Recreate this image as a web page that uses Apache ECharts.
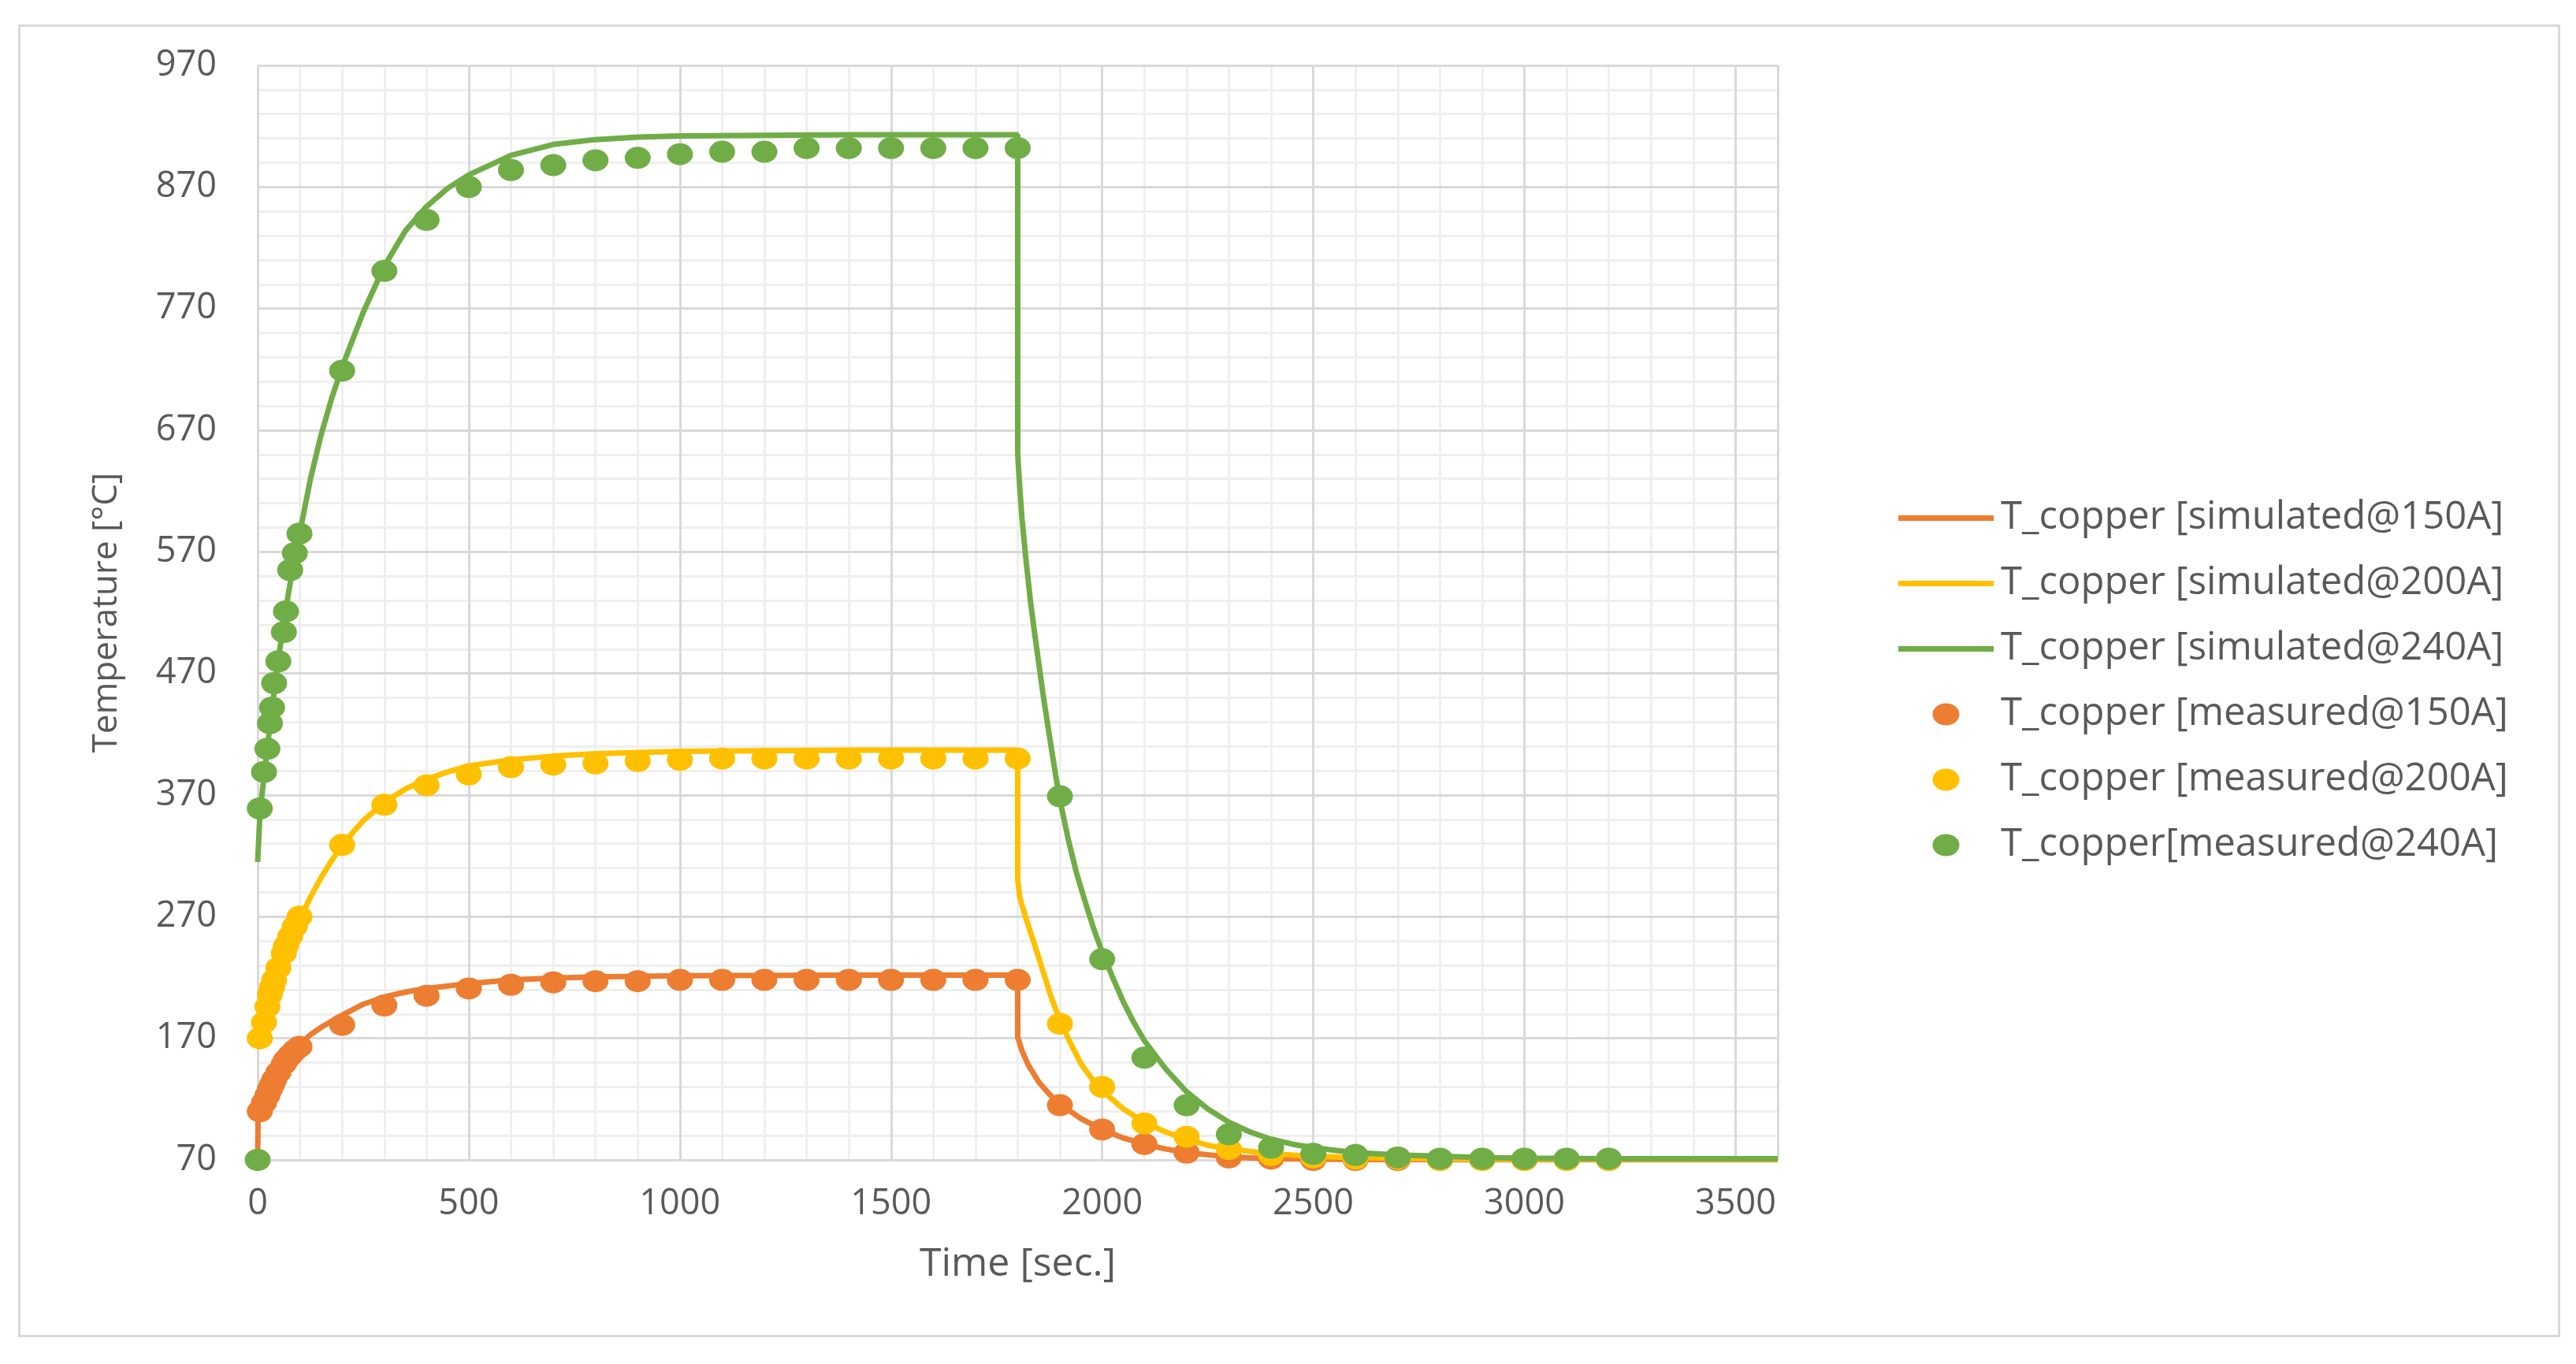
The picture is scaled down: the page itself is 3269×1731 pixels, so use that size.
<!DOCTYPE html>
<html>
<head>
<meta charset="utf-8">
<script src="https://cdn.jsdelivr.net/npm/echarts@6/dist/echarts.min.js"></script>
<style>
html,body{margin:0;padding:0;background:#fff;}
#chart{width:3269px;height:1731px;}
</style>
</head>
<body>
<div id="chart"></div>
<script>
// ---- data (time [s], temperature [°C]) ----
const seriesNames = [
  'T_copper [simulated@150A]',
  'T_copper [simulated@200A]',
  'T_copper [simulated@240A]',
  'T_copper [measured@150A]',
  'T_copper [measured@200A]',
  'T_copper[measured@240A]'
];

const sim150 = [[0,70],[1,108],[5,113],[10,118],[20,126],[30,133],[40,139],[50,145],[60,150],[70,155],[80,159],[90,162],[100,165],[125,173],[150,179],[175,184],[200,189],[250,198],[300,204],[350,208],[400,211],[500,215],[600,218],[700,219.5],[800,220.5],[1000,221.5],[1400,222],[1800,222],[1800,171],[1810,160],[1825,148],[1850,134],[1875,124],[1900,116],[1950,104],[2000,95],[2050,88],[2100,83],[2150,79],[2200,76],[2300,72.5],[2400,71],[2600,70.3],[3000,70],[3600,70]];

const sim200 = [[0,165],[10,178],[20,191],[30,203],[40,214],[50,225],[60,235],[70,244],[80,252],[90,260],[100,268],[125,286],[150,302],[175,316],[200,329],[250,349],[300,364],[350,375],[400,383],[450,389],[500,394],[600,399],[700,402],[800,404],[900,405],[1000,406],[1400,407],[1800,407],[1800,300],[1805,286],[1820,268],[1840,247],[1860,225],[1880,203],[1900,185],[1925,166],[1950,149],[1975,137],[2000,127],[2050,112],[2100,101],[2150,93],[2200,87],[2250,82],[2300,79],[2400,75],[2500,73],[2600,72],[2800,71],[3000,70.5],[3600,70.5]];

const sim240 = [[0,315],[5,352],[10,370],[20,400],[30,430],[40,458],[50,484],[60,508],[70,530],[80,550],[90,569],[100,586],[125,630],[150,666],[175,696],[200,722],[250,767],[300,805],[350,834],[400,854],[450,869],[500,880],[600,896],[700,905],[800,909],[900,911],[1000,912],[1400,913],[1800,913],[1800,650],[1805,622],[1810,598],[1820,562],[1830,530],[1840,503],[1850,478],[1860,453],[1870,430],[1880,408],[1890,386],[1900,366],[1920,333],[1940,305],[1960,282],[1980,260],[2000,241],[2025,220],[2050,200],[2075,183],[2100,168],[2150,145],[2200,126],[2250,112],[2300,101],[2350,93],[2400,87],[2450,83],[2500,80],[2550,78],[2600,76],[2700,74],[2800,73],[2900,72],[3000,71.5],[3200,71],[3600,71]];

const meas150 = [[5,110],[15,117],[23,123],[29,128],[34,132],[39,136],[49,142],[62,149],[67,152],[77,156],[88,160],[99,163],[200,181],[300,197],[400,205],[500,211],[600,214],[700,216],[800,217],[900,217],[1000,218],[1100,218],[1200,218],[1300,218],[1400,218],[1500,218],[1600,218],[1700,218],[1800,218],[1900,115],[2000,95],[2100,83],[2200,76],[2300,72],[2400,71],[2500,70],[2600,70],[2700,70],[2800,70],[2900,70],[3000,70],[3100,70],[3200,70]];

const meas200 = [[5,170],[15,183],[23,196],[29,206],[34,212],[39,218],[49,228],[62,240],[67,246],[77,254],[88,262],[99,270],[200,329],[300,362],[400,378],[500,387],[600,393],[700,395],[800,396],[900,398],[1000,399],[1100,400],[1200,400],[1300,400],[1400,400],[1500,400],[1600,400],[1700,400],[1800,400],[1900,182],[2000,130],[2100,100],[2200,89],[2300,79],[2400,74],[2500,72],[2600,71],[2700,71],[2800,70],[2900,70],[3000,70],[3100,70],[3200,70]];

const meas240 = [[0,70],[5,359],[15,389],[23,408],[29,429],[34,442],[39,462],[49,480],[62,504],[67,521],[77,555],[88,569],[99,585],[200,719],[300,801],[400,843],[500,870],[600,884],[700,888],[800,892],[900,894],[1000,897],[1100,899],[1200,899],[1300,902],[1400,902],[1500,902],[1600,902],[1700,902],[1800,902],[1900,369],[2000,235],[2100,154],[2200,115],[2300,91],[2400,80],[2500,75],[2600,74],[2700,72],[2800,71],[2900,71],[3000,71],[3100,71],[3200,71]];

const colors = ['#ED7D31', '#FFC000', '#70AD47'];
const xTitle = 'Time [sec.]';
const yTitle = 'Temperature [°C]';

const textColor = '#595959';
const font = '"Open Sans", "Noto Sans", sans-serif';

// legend icons drawn in a 121x30 box (corner points keep the box size)
const lineIcon = 'path://M0,0L0,0M121,30L121,30M0,11.5L121,11.5L121,18.5L0,18.5Z';
const dotIcon = 'path://M0,0L0,0M121,30L121,30M43.5,15A17,14,0,1,0,77.5,15A17,14,0,1,0,43.5,15Z';

const chart = echarts.init(document.getElementById('chart'), null, {renderer: 'canvas'});

function lineSeries(name, data, color) {
  return {
    name, type: 'line', data, symbol: 'none', showSymbol: false,
    lineStyle: {color, width: 7}, itemStyle: {color},
    xAxisIndex: 0, yAxisIndex: 0, z: 3
  };
}
function dotSeries(name, data, color) {
  return {
    name, type: 'scatter', data, symbol: 'circle', symbolSize: [33, 28],
    itemStyle: {color, opacity: 1}, xAxisIndex: 0, yAxisIndex: 0, z: 4
  };
}

chart.setOption({
  animation: false,
  backgroundColor: '#ffffff',
  graphic: [{
    type: 'rect', left: 22, top: 30, z: -1,
    shape: {width: 3223, height: 1663},
    style: {fill: 'none', stroke: '#d9d9d9', lineWidth: 3}
  }],
  grid: {left: 327, top: 83, width: 1929, height: 1389, containLabel: false},
  legend: {
    orient: 'vertical', left: 2404, top: 628,
    itemWidth: 121, itemHeight: 30, itemGap: 34,
    itemStyle: {borderWidth: 0},
    textStyle: {fontSize: 49, color: textColor, fontFamily: font, padding: [0,0,0,4]},
    data: seriesNames.map((n, i) => ({name: n, icon: i < 3 ? lineIcon : dotIcon}))
  },
  xAxis: [{
    type: 'value', min: 0, max: 3600, interval: 500,
    name: xTitle, nameLocation: 'middle', nameGap: 108,
    nameTextStyle: {fontSize: 50, color: textColor, fontFamily: font},
    axisLine: {show: false}, axisTick: {show: false},
    axisLabel: {fontSize: 45, color: textColor, fontFamily: font, margin: 34,
      formatter: v => (v % 500 === 0 ? String(v) : '')},
    splitLine: {show: true, lineStyle: {color: '#d9d9d9', width: 3}},
    z: 2
  }, {
    type: 'value', min: 0, max: 3600, interval: 100, position: 'top',
    axisLine: {show: false}, axisTick: {show: false}, axisLabel: {show: false},
    splitLine: {show: true, lineStyle: {color: '#efefef', width: 3}},
    z: 1
  }],
  yAxis: [{
    type: 'value', min: 70, max: 970, interval: 100,
    name: yTitle, nameLocation: 'middle', nameGap: 170,
    nameTextStyle: {fontSize: 44, color: textColor, fontFamily: font},
    axisLine: {show: false}, axisTick: {show: false},
    axisLabel: {fontSize: 45, color: textColor, fontFamily: font, margin: 52},
    splitLine: {show: true, lineStyle: {color: '#d9d9d9', width: 3}},
    z: 2
  }, {
    type: 'value', min: 70, max: 970, interval: 20, position: 'right',
    axisLine: {show: false}, axisTick: {show: false}, axisLabel: {show: false},
    splitLine: {show: true, lineStyle: {color: '#efefef', width: 3}},
    z: 1
  }],
  series: [
    lineSeries(seriesNames[0], sim150, colors[0]),
    lineSeries(seriesNames[1], sim200, colors[1]),
    lineSeries(seriesNames[2], sim240, colors[2]),
    dotSeries(seriesNames[3], meas150, colors[0]),
    dotSeries(seriesNames[4], meas200, colors[1]),
    dotSeries(seriesNames[5], meas240, colors[2])
  ]
});
</script>
</body>
</html>
